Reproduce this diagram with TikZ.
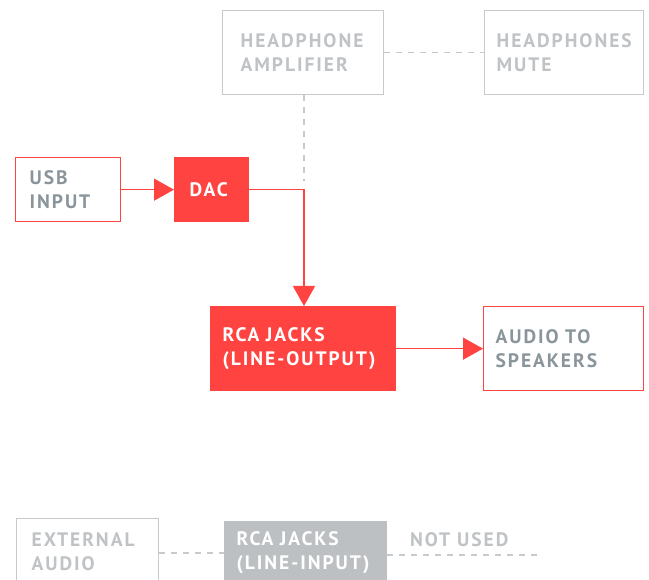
\documentclass[tikz,border=0pt]{standalone}
\usepackage{fontspec}
\setmainfont{PT Sans}[LetterSpace=10]
\usetikzlibrary{arrows.meta}
\definecolor{cred}{HTML}{FF4340}
\definecolor{cslate}{HTML}{8A959B}
\definecolor{clight}{HTML}{C6CACC}
\definecolor{cltext}{HTML}{BFC3C6}
\definecolor{cfillg}{HTML}{BDC0C2}
\tikzset{
  x=1pt, y=-1pt,
  lbl/.style={font=\fontsize{19.5}{24}\selectfont\bfseries},
  blk/.style n args={3}{anchor=north west, minimum width=#1pt, minimum height=#2pt,
    text width=#1pt-2*#3pt, inner xsep=#3pt, inner ysep=0pt, align=left,
    lbl, line width=1.3pt},
  redbox/.style={draw=cred, text=cslate},
  redfill/.style={fill=cred, draw=cred, text=white},
  greybox/.style={draw=clight, text=cltext},
  greyfill/.style={fill=cfillg, draw=cfillg, text=white},
  conn/.style={draw=cred, line width=1.3pt, -{Triangle[length=20pt,width=22pt]}},
  dashc/.style={draw=clight, line width=1.5pt, dash pattern=on 6pt off 6pt},
}
\begin{document}
\begin{tikzpicture}
\useasboundingbox (0,0) rectangle (649,580);
\clip (0,0) rectangle (649,580);
\node[blk={161}{84}{18}, greybox] (amp) at (222,10) {HEADPHONE\\AMPLIFIER};
\node[blk={159}{84}{12}, greybox] (mute) at (484,10) {HEADPHONES\\MUTE};
\node[blk={105}{64}{14}, redbox] (usb) at (15,157) {USB\\INPUT};
\node[blk={74}{64}{15}, redfill] (dac) at (174,157) {DAC};
\node[blk={185}{84}{12}, redfill] (rca) at (210,306) {RCA JACKS\\(LINE-OUTPUT)};
\node[blk={160}{84}{12}, redbox, draw=cred] (spk) at (483,306) {AUDIO TO\\SPEAKERS};
\node[blk={142}{66}{15}, greybox] (ext) at (16,518) {EXTERNAL\\AUDIO};
\node[blk={162}{62}{12}, greyfill] (rcain) at (224,521) {RCA JACKS\\(LINE-INPUT)};
\node[anchor=west, inner sep=0pt, lbl, text=cltext] (nu) at (410,539.5) {NOT USED};
\coordinate (nuend) at (540,555);
\coordinate (amptap) at (amp.south -| 304,0);
\coordinate (ampend) at (304,181);
\coordinate (corner) at (dac.east -| 304,0);
% dashed links
\draw[dashc] (amp.east) -- (mute.west);
\draw[dashc] (amptap) -- (ampend);
\draw[dashc] (ext.east |- 0,553) -- (rcain.west |- 0,553);
\draw[dashc] (rcain.east |- 0,555) -- (nuend);
% red connectors
\draw[conn] (usb.east) -- (dac.west);
\draw[conn] (dac.east) -- (corner) -- (rca.north -| corner);
\draw[conn] (rca.east |- spk.west) -- (spk.west);
\end{tikzpicture}
\end{document}
